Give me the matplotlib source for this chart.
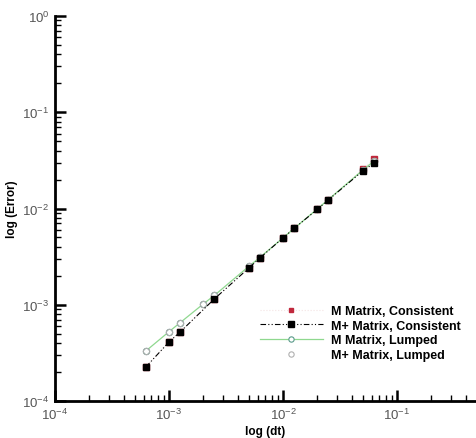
import matplotlib
matplotlib.use("Agg")
import matplotlib.pyplot as plt
from matplotlib.ticker import LogLocator, NullFormatter

plt.rcParams['font.family'] = ['Liberation Sans', 'DejaVu Sans']
plt.rcParams['mathtext.fontset'] = 'custom'
plt.rcParams['mathtext.rm'] = 'Liberation Sans'

# Data
dt_cons = [6.25e-4, 1e-3, 1.25e-3, 2.5e-3, 5e-3, 6.25e-3, 1e-2, 1.25e-2, 2e-2, 2.5e-2, 5e-2, 6.25e-2]
err_M_cons = [2.25e-4, 4.1e-4, 5.2e-4, 1.15e-3, 2.4e-3, 3.05e-3, 4.95e-3, 6.2e-3, 9.8e-3, 1.23e-2, 2.55e-2, 3.25e-2]
err_Mp_cons = [2.25e-4, 4.1e-4, 5.2e-4, 1.15e-3, 2.4e-3, 3.05e-3, 4.95e-3, 6.2e-3, 9.8e-3, 1.23e-2, 2.45e-2, 2.95e-2]

dt_lump = [6.25e-4, 1e-3, 1.25e-3, 2e-3, 2.5e-3, 5e-3, 6.25e-3, 1e-2, 1.25e-2, 2e-2, 2.5e-2, 5e-2, 6.25e-2]
err_M_lump = [3.3e-4, 5.25e-4, 6.5e-4, 1.02e-3, 1.25e-3, 2.5e-3, 3.1e-3, 4.95e-3, 6.2e-3, 9.9e-3, 1.24e-2, 2.5e-2, 3.1e-2]
err_Mp_lump = [3.3e-4, 5.25e-4, 6.5e-4, 1.02e-3, 1.25e-3, 2.5e-3, 3.1e-3, 4.95e-3, 6.2e-3, 9.9e-3, 1.24e-2, 2.5e-2, 3.1e-2]

labels = ["M Matrix, Consistent", "M+ Matrix, Consistent", "M Matrix, Lumped", "M+ Matrix, Lumped"]

W, H = 476, 439
fig = plt.figure(figsize=(W / 100, H / 100), dpi=100)
ax = fig.add_axes([55 / W, (H - 402) / H, (W - 55) / W, (402 - 17) / H])

l_ml, = ax.plot(dt_lump, err_M_lump, '-', color='#8fd88f', lw=0.9, marker='o', ms=4.5,
                mfc='white', mec='#5a9a8a', mew=0.8, zorder=3)
l_mpl, = ax.plot(dt_lump, err_Mp_lump, 'none', marker='o', ms=4.5, mfc='none',
                 mec='#b0b0b0', mew=0.8, zorder=3)
l_mpc, = ax.plot(dt_cons, err_Mp_cons, color='black', lw=0.8, dashes=[5, 2, 1, 2, 1, 2],
                 marker='s', ms=4.5, mfc='black', mec='black', zorder=4)
l_mc, = ax.plot(dt_cons, err_M_cons, ':', color='#f4e4e4', lw=0.8, marker='s', ms=4,
                mfc='#c0283c', mec='#c0283c', zorder=2)

ax.set_xscale('log')
ax.set_yscale('log')
ax.set_xlim(1e-4, 10 ** ((W - 55) / 114 - 4))
ax.set_ylim(1e-4, 1)

for s in ['top', 'right']:
    ax.spines[s].set_visible(False)
for s in ['left', 'bottom']:
    ax.spines[s].set_linewidth(2.0)

ax.xaxis.set_major_locator(LogLocator(base=10, numticks=10))
ax.yaxis.set_major_locator(LogLocator(base=10, numticks=10))
ax.xaxis.set_minor_locator(LogLocator(base=10, subs=range(2, 10), numticks=10))
ax.yaxis.set_minor_locator(LogLocator(base=10, subs=range(2, 10), numticks=10))
ax.xaxis.set_minor_formatter(NullFormatter())
ax.yaxis.set_minor_formatter(NullFormatter())
ax.tick_params(which='major', direction='in', length=8, width=1.8, labelsize=9.5,
               labelcolor='#555555', pad=4)
ax.tick_params(which='minor', direction='in', length=4, width=1.0)

ax.set_xlabel('log (dt)', fontsize=8.5, fontweight='bold', labelpad=2)
ax.set_ylabel('log (Error)', fontsize=8.5, fontweight='bold', labelpad=3)

leg = ax.legend([l_mc, l_mpc, l_ml, l_mpl], labels, loc='upper left',
                bbox_to_anchor=(260 / W, 1 - 306 / H), bbox_transform=fig.transFigure,
                frameon=False, prop={'weight': 'bold', 'size': 9}, handlelength=5.0,
                labelspacing=0.22, handletextpad=0.7, borderpad=0, borderaxespad=0,
                markerscale=0.85)

fig.savefig('out.png', dpi=100)
